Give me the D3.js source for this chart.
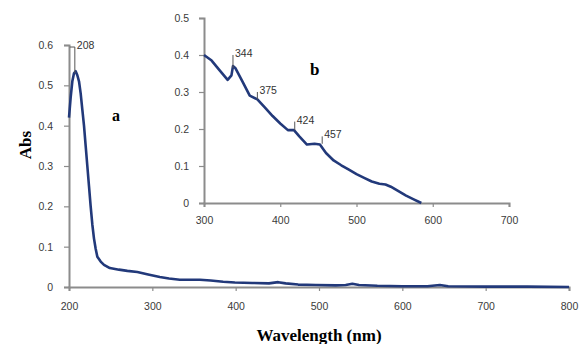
<!DOCTYPE html>
<html>
<head>
<meta charset="utf-8">
<script src="https://cdn.jsdelivr.net/npm/d3@7"></script>
<style>
  body { margin: 0; background: #fff; }
  svg { display: block; }
</style>
</head>
<body>
<svg id="chart" width="584" height="344"></svg>
<script>
// main spectrum (a)
const mainWl  = [200, 202, 204, 206, 208, 210, 212, 214, 216, 218, 220, 222, 224, 226, 228, 230, 232, 234, 238, 242, 249, 260, 270, 282, 295, 309, 320, 333, 345, 357, 370, 385, 399, 420, 440, 451, 460, 475, 496, 520, 532, 540, 548, 570, 600, 630, 645, 655, 700, 750, 800];
const mainAbs = [0.42, 0.47, 0.51, 0.53, 0.535, 0.525, 0.51, 0.48, 0.44, 0.40, 0.35, 0.30, 0.25, 0.20, 0.155, 0.12, 0.095, 0.075, 0.063, 0.055, 0.047, 0.043, 0.040, 0.037, 0.031, 0.025, 0.021, 0.018, 0.018, 0.018, 0.016, 0.013, 0.011, 0.010, 0.009, 0.012, 0.009, 0.006, 0.005, 0.004, 0.005, 0.008, 0.005, 0.003, 0.002, 0.002, 0.005, 0.002, 0.001, 0.001, 0.0];

// inset spectrum (b)
const insetWl  = [300, 310, 320, 331, 336, 338, 341, 350, 360, 370, 380, 390, 400, 410, 418, 425, 435, 445, 452, 460, 470, 480, 490, 500, 510, 520, 530, 538, 545, 555, 565, 575, 585];
const insetAbs = [0.40, 0.385, 0.36, 0.333, 0.345, 0.37, 0.365, 0.33, 0.29, 0.28, 0.258, 0.235, 0.215, 0.197, 0.197, 0.18, 0.158, 0.16, 0.158, 0.135, 0.115, 0.102, 0.09, 0.078, 0.068, 0.058, 0.052, 0.05, 0.044, 0.032, 0.02, 0.01, 0.0];

// axis ticks
const mainXTicks = [200, 300, 400, 500, 600, 700, 800];
const mainYTicks = [0, 0.1, 0.2, 0.3, 0.4, 0.5, 0.6];
const insetXTicks = [300, 400, 500, 600, 700];
const insetYTicks = [0, 0.1, 0.2, 0.3, 0.4, 0.5];

// peak labels
const mainPeaks = [{ label: '208', wl: 207, lo: 0.53, hi: 0.595 }];
const insetPeaks = [
  { label: '344', wl: 338, lo: 0.365, hi: 0.40 },
  { label: '375', wl: 370, lo: 0.28, hi: 0.30 },
  { label: '424', wl: 419, lo: 0.197, hi: 0.22 },
  { label: '457', wl: 455, lo: 0.16, hi: 0.18 }
];

const lineColor = '#22397a';
const axisColor = '#8c8c8c';
const tickFont = '"Liberation Sans", Arial, sans-serif';
const titleFont = '"Liberation Serif", "Times New Roman", serif';

let svg = d3.select('#chart');

function drawPanel(opts) {
  let x = d3.scaleLinear().domain(opts.xDomain).range(opts.xRange);
  let y = d3.scaleLinear().domain(opts.yDomain).range(opts.yRange);
  let g = svg.append('g');

  let xAxis = g.append('g')
    .attr('transform', `translate(0,${opts.yRange[0]})`)
    .call(d3.axisBottom(x).tickValues(opts.xTicks).tickSize(4).tickPadding(opts.xPad).tickFormat(d3.format('d')));
  let yAxis = g.append('g')
    .attr('transform', `translate(${opts.xRange[0]},0)`)
    .call(d3.axisLeft(y).tickValues(opts.yTicks).tickSize(5).tickPadding(opts.yPad).tickFormat(d => d === 0 ? '0' : d3.format('.1f')(d)));

  [xAxis, yAxis].forEach(a => {
    a.select('.domain').attr('stroke', axisColor).attr('stroke-width', 2);
    a.selectAll('.tick line').attr('stroke', axisColor).attr('stroke-width', 1.2);
    a.selectAll('.tick text')
      .attr('fill', '#3a3a3a')
      .style('font-family', tickFont)
      .style('font-size', '10.5px');
  });

  let line = d3.line().x((d, i) => x(opts.wl[i])).y(d => y(d));
  g.append('path')
    .datum(opts.abs)
    .attr('fill', 'none')
    .attr('stroke', lineColor)
    .attr('stroke-width', 2.6)
    .attr('stroke-linejoin', 'round')
    .attr('d', line);

  let pk = g.selectAll('g.peak').data(opts.peaks).enter().append('g').attr('class', 'peak');
  pk.append('line')
    .attr('x1', d => x(d.wl)).attr('x2', d => x(d.wl))
    .attr('y1', d => y(d.lo)).attr('y2', d => y(d.hi))
    .attr('stroke', '#555').attr('stroke-width', 1);
  pk.append('text')
    .attr('x', d => x(d.wl) + 2)
    .attr('y', d => y(d.hi) + 2)
    .attr('fill', '#333')
    .style('font-family', tickFont)
    .style('font-size', '10.5px')
    .text(d => d.label);

  return { x, y, g };
}

let mainP = drawPanel({
  xDomain: [200, 800], xRange: [69, 569],
  yDomain: [0, 0.6], yRange: [287, 45],
  xTicks: mainXTicks, yTicks: mainYTicks,
  xPad: 12, yPad: 11,
  wl: mainWl, abs: mainAbs, peaks: mainPeaks
});

// little hook at the top of the 208 marker
mainP.g.append('line')
  .attr('x1', mainP.x(207) - 5).attr('x2', mainP.x(207))
  .attr('y1', mainP.y(0.595)).attr('y2', mainP.y(0.595))
  .attr('stroke', '#555').attr('stroke-width', 1);

let insetP = drawPanel({
  xDomain: [300, 700], xRange: [204, 509],
  yDomain: [0, 0.5], yRange: [203, 18],
  xTicks: insetXTicks, yTicks: insetYTicks,
  xPad: 10, yPad: 10,
  wl: insetWl, abs: insetAbs, peaks: insetPeaks
});

// panel letters
svg.append('text')
  .attr('x', 112).attr('y', 121)
  .style('font-family', titleFont).style('font-weight', 'bold').style('font-size', '16px')
  .text('a');
svg.append('text')
  .attr('x', 310).attr('y', 75)
  .style('font-family', titleFont).style('font-weight', 'bold').style('font-size', '17px')
  .text('b');

// axis titles
svg.append('text')
  .attr('x', 319).attr('y', 341)
  .attr('text-anchor', 'middle')
  .style('font-family', titleFont).style('font-weight', 'bold').style('font-size', '17px')
  .text('Wavelength (nm)');
svg.append('text')
  .attr('transform', 'translate(31,145) rotate(-90)')
  .attr('text-anchor', 'middle')
  .style('font-family', titleFont).style('font-weight', 'bold').style('font-size', '17px')
  .text('Abs');
</script>
</body>
</html>
